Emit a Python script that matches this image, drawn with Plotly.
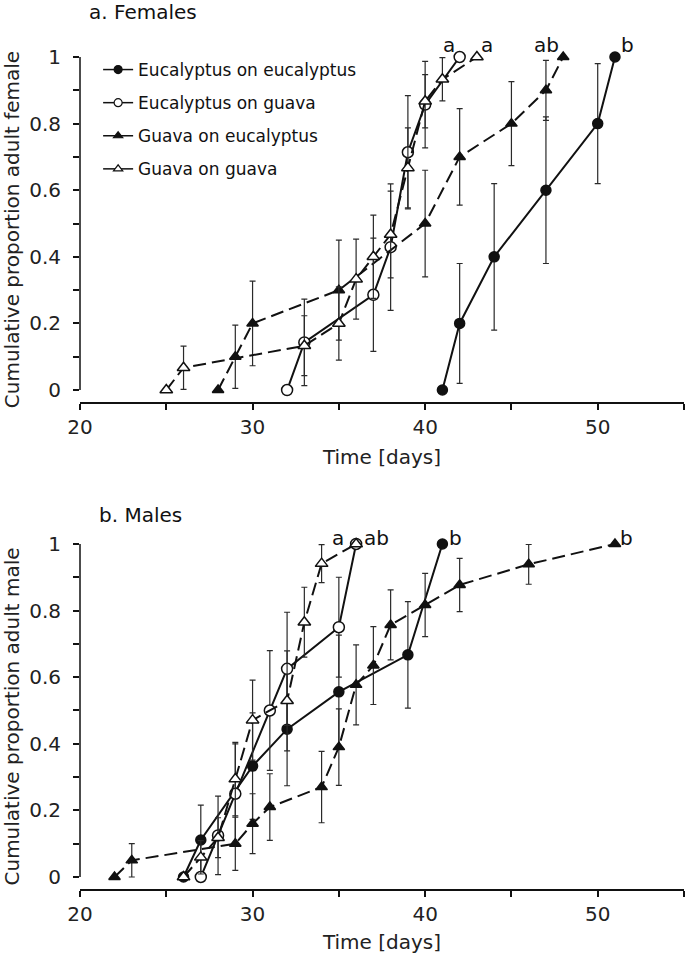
import plotly.graph_objects as go
from plotly.subplots import make_subplots

# ---------------- data ----------------
series_names = ["Eucalyptus on eucalyptus", "Eucalyptus on guava",
                "Guava on eucalyptus", "Guava on guava"]

# a. Females
fe_ee_x = [41, 42, 44, 47, 50, 51]
fe_ee_y = [0, 0.2, 0.4, 0.6, 0.8, 1.0]
fe_ee_err = [None, 0.18, 0.22, 0.22, 0.18, None]

fe_eg_x = [32, 33, 37, 38, 39, 40, 42]
fe_eg_y = [0, 0.143, 0.286, 0.429, 0.714, 0.857, 1.0]
fe_eg_err = [None, 0.13, 0.17, 0.19, 0.17, 0.13, None]

fe_ge_x = [28, 29, 30, 35, 40, 42, 45, 47, 48]
fe_ge_y = [0, 0.1, 0.2, 0.3, 0.5, 0.7, 0.8, 0.9, 1.0]
fe_ge_err = [None, 0.095, 0.127, 0.15, 0.16, 0.145, 0.126, 0.09, None]

fe_gg_x = [25, 26, 33, 35, 36, 37, 38, 39, 40, 41, 43]
fe_gg_y = [0, 0.067, 0.133, 0.2, 0.333, 0.4, 0.467, 0.667, 0.867, 0.933, 1.0]
fe_gg_err = [None, 0.065, 0.09, 0.11, 0.12, 0.125, 0.13, 0.12, 0.08, 0.065, None]

# b. Males
ma_ee_x = [26, 27, 30, 32, 35, 39, 41]
ma_ee_y = [0, 0.111, 0.333, 0.444, 0.556, 0.667, 1.0]
ma_ee_err = [None, 0.105, 0.16, 0.17, 0.17, 0.16, None]

ma_eg_x = [27, 28, 29, 31, 32, 35, 36]
ma_eg_y = [0, 0.125, 0.25, 0.5, 0.625, 0.75, 1.0]
ma_eg_err = [None, 0.118, 0.15, 0.18, 0.17, 0.15, None]

ma_ge_x = [22, 23, 29, 30, 31, 34, 35, 36, 37, 38, 40, 42, 46, 51]
ma_ge_y = [0, 0.05, 0.1, 0.16, 0.21, 0.27, 0.39, 0.577, 0.635, 0.757, 0.817, 0.877, 0.939, 1.0]
ma_ge_err = [None, 0.05, 0.08, 0.09, 0.1, 0.107, 0.115, 0.12, 0.117, 0.105, 0.095, 0.08, 0.06, None]

ma_gg_x = [26, 27, 28, 29, 30, 32, 33, 34, 36]
ma_gg_y = [0, 0.059, 0.118, 0.294, 0.471, 0.529, 0.765, 0.941, 1.0]
ma_gg_err = [None, 0.05, 0.06, 0.11, 0.12, 0.15, 0.105, 0.057, None]

# significance letters (placed at each series' last point)
fe_letters = ["b", "a", "ab", "a"]
ma_letters = ["b", "ab", "b", "a"]

x_tickvals = [20, 25, 30, 35, 40, 45, 50, 55]
x_ticktext = ["20", "", "30", "", "40", "", "50", ""]
y_tickvals = [0, 0.1, 0.2, 0.3, 0.4, 0.5, 0.6, 0.7, 0.8, 0.9, 1.0]
y_ticktext = ["0", "", "0.2", "", "0.4", "", "0.6", "", "0.8", "", "1"]

# ---------------- styles ----------------
FONT = "DejaVu Sans"
BLACK = "#111111"
DASH = "13px,6px"
styles = [
    dict(symbol="circle", fill=BLACK, dash="solid", size=10),
    dict(symbol="circle", fill="white", dash="solid", size=11),
    dict(symbol="triangle-up", fill=BLACK, dash=DASH, size=10),
    dict(symbol="triangle-up", fill="white", dash=DASH, size=11),
]

fig = make_subplots(rows=2, cols=1, vertical_spacing=0.0)

female = [(fe_ee_x, fe_ee_y, fe_ee_err), (fe_eg_x, fe_eg_y, fe_eg_err),
          (fe_ge_x, fe_ge_y, fe_ge_err), (fe_gg_x, fe_gg_y, fe_gg_err)]
male = [(ma_ee_x, ma_ee_y, ma_ee_err), (ma_eg_x, ma_eg_y, ma_eg_err),
        (ma_ge_x, ma_ge_y, ma_ge_err), (ma_gg_x, ma_gg_y, ma_gg_err)]

order = [0, 1, 2, 3]
for row, data in ((1, female), (2, male)):
    for i in order:
        xs, ys, es = data[i]
        st = styles[i]
        fig.add_trace(go.Scatter(
            x=xs, y=ys, mode="lines+markers", showlegend=False,
            cliponaxis=False,
            line=dict(color=BLACK, width=2, dash=st["dash"]),
            marker=dict(symbol=st["symbol"], size=st["size"], color=st["fill"],
                        line=dict(color=BLACK, width=1.5)),
            error_y=dict(type="data", array=es, visible=True, color="#2a2a2a",
                         thickness=1.2, width=3),
        ), row=row, col=1)

# legend-only entries (solid sample lines as in the original)
for i, name in enumerate(series_names):
    st = styles[i]
    fig.add_trace(go.Scatter(
        x=[None], y=[None], mode="lines+markers", name=name,
        legendgroup=name,
        line=dict(color=BLACK, width=1.5),
        marker=dict(symbol=st["symbol"], size=8, color=st["fill"],
                    line=dict(color=BLACK, width=1.2)),
    ), row=1, col=1)

# significance letter annotations
fe_shift = [(13, 12), (-11, 12), (-17, 12), (10, 12)]
ma_shift = [(13, 6), (20, 6), (12, 6), (-18, 6)]
for row, data, letters, shifts in ((1, female, fe_letters, fe_shift),
                                   (2, male, ma_letters, ma_shift)):
    for i in range(4):
        xs, ys, _ = data[i]
        fig.add_annotation(x=xs[-1], y=ys[-1], text=letters[i], showarrow=False,
                           xshift=shifts[i][0], yshift=shifts[i][1],
                           font=dict(family=FONT, size=20, color=BLACK),
                           row=row, col=1)

# panel titles
fig.add_annotation(xref="paper", yref="paper", x=0.0116, y=1.054, xanchor="left",
                   yanchor="middle", text="a. Females", showarrow=False,
                   font=dict(family=FONT, size=20, color=BLACK))
fig.add_annotation(xref="paper", yref="paper", x=0.028, y=0.4495, xanchor="left",
                   yanchor="middle", text="b. Males", showarrow=False,
                   font=dict(family=FONT, size=20, color=BLACK))

# detached y axis lines (0..1)
for yref in ("y", "y2"):
    fig.add_shape(type="line", xref="x domain" if yref == "y" else "x2 domain",
                  yref=yref, x0=0, x1=0, y0=0, y1=1,
                  line=dict(color=BLACK, width=1.5))

axis_font = dict(family=FONT, size=20, color="#222222")
for r, ytitle in ((1, "Cumulative proportion adult female"),
                  (2, "Cumulative proportion adult male")):
    fig.update_xaxes(range=[20, 55], tickvals=x_tickvals, ticktext=x_ticktext,
                     ticks="outside", ticklen=6, tickwidth=1.5, tickcolor=BLACK,
                     showline=True, linecolor=BLACK, linewidth=1.5,
                     showgrid=False, zeroline=False, tickfont=axis_font,
                     automargin=False,
                     title=dict(text="Time [days]", font=axis_font, standoff=12),
                     row=r, col=1)
    fig.update_yaxes(range=[-0.036, 1.0], tickvals=y_tickvals, ticktext=y_ticktext,
                     ticks="outside", ticklen=6, tickwidth=1.5, tickcolor=BLACK,
                     showline=False, showgrid=False, zeroline=False,
                     tickfont=axis_font, ticklabelstandoff=8, automargin=False,
                     title=dict(text=ytitle, font=axis_font, standoff=10),
                     row=r, col=1)

fig.update_layout(
    width=685, height=954,
    margin=dict(l=80, r=1, t=57, b=65, autoexpand=False),
    paper_bgcolor="white", plot_bgcolor="white",
    font=dict(family=FONT, color=BLACK),
    legend=dict(x=0.03, y=1.006, xanchor="left", yanchor="top",
                font=dict(family=FONT, size=17, color=BLACK),
                bgcolor="rgba(0,0,0,0)", tracegroupgap=8, itemwidth=30),
)
fig.update_yaxes(domain=[0.5853, 1.0], row=1, col=1)
fig.update_yaxes(domain=[0.0, 0.4147], row=2, col=1)

fig.write_html("out.html",
               config={"displayModeBar": False},
               post_script="document.body.style.margin='0';"
                           "document.body.style.overflow='hidden';")
